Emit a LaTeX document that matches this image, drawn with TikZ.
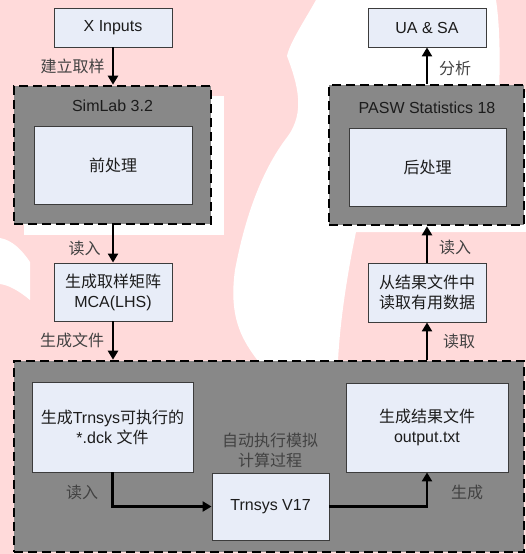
\documentclass[tikz,border=0pt]{standalone}
\usepackage{fontspec}
\setmainfont{Liberation Sans}
\newfontfamily\cjk{Noto Sans CJK SC}
\usetikzlibrary{arrows.meta,positioning,calc}
\definecolor{boxblue}{RGB}{232,237,248}
\definecolor{grpgray}{RGB}{136,136,136}
\definecolor{edgegray}{RGB}{60,60,60}
\definecolor{wmpink}{RGB}{255,218,218}
\definecolor{txtdark}{RGB}{28,28,28}
\definecolor{lbldark}{RGB}{66,66,66}

\tikzset{
  procbox/.style={draw=edgegray, fill=boxblue, line width=0.9pt, inner sep=0pt, align=center,
    text=txtdark, font=\fontsize{16}{20}\selectfont},
  grpbox/.style={draw=black, fill=grpgray, line width=2.6pt, dash pattern=on 9pt off 5pt, inner sep=0pt},
  grptitle/.style={text=txtdark, font=\fontsize{16}{20}\selectfont, inner sep=0pt},
  flow/.style={line width=2.6pt, -{Triangle[length=9pt,width=10pt]}},
  lbl/.style={text=lbldark, font=\fontsize{16}{20}\selectfont\cjk, inner sep=0pt, align=center},
}

\begin{document}
\begin{tikzpicture}[x=1pt, y=-1pt]
  \useasboundingbox (0,0) rectangle (526,554);
  % --- faint watermark behind the chart
  \fill[wmpink] (0,0) rectangle (526,554);
  \fill[white] (316,0) .. controls (305,20) and (290,42) .. (287,56)
    .. controls (298,85) and (305,112) .. (288,136)
    .. controls (260,172) and (244,222) .. (235,270)
    .. controls (228,320) and (244,342) .. (258,361) -- (338,361)
    .. controls (340,320) and (348,270) .. (356,232) -- (490,232)
    .. controls (495,160) and (505,60) .. (496,0) -- cycle;
  \fill[white] (0,238) .. controls (12,240) and (22,250) .. (30,262)
    -- (30,300) .. controls (18,290) and (8,285) .. (0,284) -- cycle;
  \fill[white] (24,96) rectangle (224,235);
  \fill[white] (335,92) rectangle (526,232);

  % --- groups
  \node[grpbox, minimum width=197pt, minimum height=138pt] (simlab) at (112.5,155) {};
  \node[grpbox, minimum width=195pt, minimum height=140pt] (pasw) at (426.5,155) {};
  \node[grpbox, minimum width=510pt, minimum height=191pt] (trnsysgrp) at (269,456.5) {};
  \node[grptitle] (simlabtitle) at (112.5,106) {SimLab 3.2};
  \node[grptitle] (paswtitle) at (427,108) {PASW Statistics 18};

  % --- process boxes
  \node[procbox, minimum width=118pt, minimum height=39pt] (xin) at (113,27.5) {X Inputs};
  \node[procbox, minimum width=158pt, minimum height=78pt] (pre) at (113,165) {\cjk 前处理};
  \node[procbox, minimum width=118pt, minimum height=58pt] (mca) at (113,292)
    {{\cjk 生成取样矩阵}\\MCA(LHS)};
  \node[procbox, minimum width=161pt, minimum height=90pt] (dck) at (112.5,427)
    {{\cjk 生成}Trnsys{\cjk 可执行的}\\{}*.dck {\cjk 文件}};
  \node[procbox, minimum width=117pt, minimum height=67pt] (trn) at (270.5,506.5) {Trnsys V17};
  \node[procbox, minimum width=162pt, minimum height=89pt] (out) at (427,427.5)
    {{\cjk 生成结果文件}\\output.txt};
  \node[procbox, minimum width=118pt, minimum height=59pt] (rd) at (427,292.5)
    {{\cjk 从结果文件中}\\{\cjk 读取有用数据}};
  \node[procbox, minimum width=157pt, minimum height=78pt] (post) at (427.5,167) {\cjk 后处理};
  \node[procbox, minimum width=118pt, minimum height=39pt] (uasa) at (427,27.5) {UA \& SA};

  % --- flow
  \draw[flow] (xin.south) -- (xin |- simlab.north);
  \draw[flow] (mca |- simlab.south) -- (mca.north);
  \draw[flow] (mca.south) -- (mca |- trnsysgrp.north);
  \draw[flow] (dck.south) |- (trn.west);
  \draw[flow] (trn.east) -| (out.south);
  \draw[flow] (rd |- trnsysgrp.north) -- (rd.south);
  \draw[flow] (rd.north) -- (rd |- pasw.south);
  \draw[flow] (uasa |- pasw.north) -- (uasa.south);

  % --- labels
  \node[lbl] (l1) at (72.5,66) {建立取样};
  \node[lbl] (l2) at (84.5,248) {读入};
  \node[lbl] (l3) at (72,340) {生成文件};
  \node[lbl] (l4) at (82,492) {读入};
  \node[lbl] (l5) at (270,450) {自动执行模拟\\计算过程};
  \node[lbl] (l6) at (467,492) {生成};
  \node[lbl] (l7) at (459,341) {读取};
  \node[lbl] (l8) at (455,247) {读入};
  \node[lbl] (l9) at (455,68) {分析};
\end{tikzpicture}
\end{document}
